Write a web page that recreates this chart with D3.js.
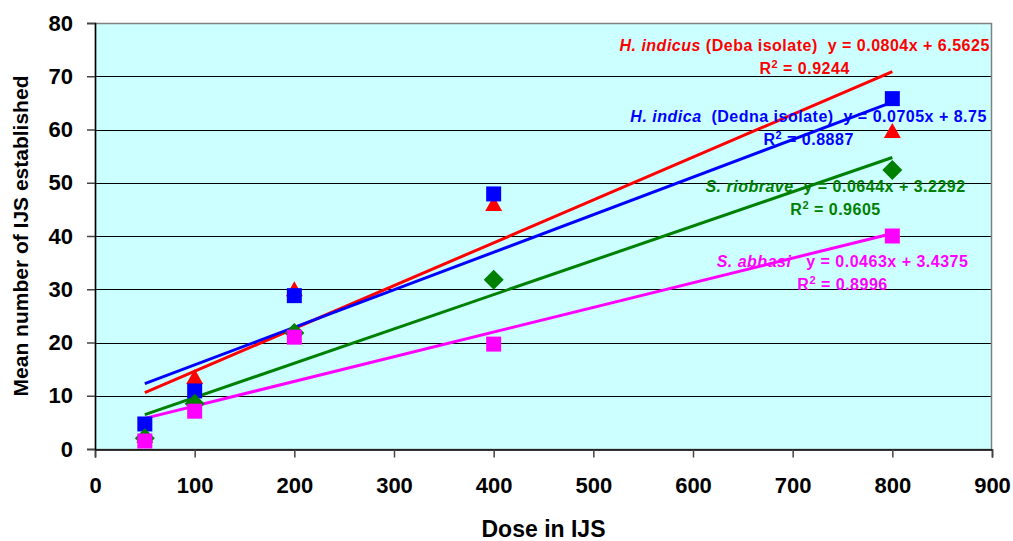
<!DOCTYPE html>
<html>
<head>
<meta charset="utf-8">
<script src="https://cdn.jsdelivr.net/npm/d3@7"></script>
<style>
  html, body { margin: 0; padding: 0; background: #ffffff; }
  svg { display: block; font-family: "Liberation Sans", Arial, sans-serif; font-weight: bold; }
  text { white-space: pre; }
</style>
</head>
<body>
<svg id="chart" width="1013" height="541"></svg>
<script>
// ---------- data ----------
const doses = [50, 100, 200, 400, 800];
const hIndicus = [2.5, 13.5, 30, 46, 59.7];     // red triangles
const hIndica = [4.7, 10.9, 28.8, 47.9, 65.8];  // blue squares
const sRiobrave = [2, 8.5, 21.8, 31.8, 52.4];   // green diamonds
const sAbbasi = [1.5, 7.1, 21, 19.7, 40];       // magenta squares

const slopes = [0.0804, 0.0705, 0.0644, 0.0463];
const intercepts = [6.5625, 8.75, 3.2292, 3.4375];
const rSquared = ["0.9244", "0.8887", "0.9605", "0.8996"];
const speciesNames = ["H. indicus", "H. indica", "S. riobrave", "S. abbasi"];
const speciesSuffix = [" (Deba isolate)  y = 0.0804x + 6.5625", "  (Dedna isolate)  y = 0.0705x + 8.75", "  y = 0.0644x + 3.2292", "   y = 0.0463x + 3.4375"];

const xTicks = [0, 100, 200, 300, 400, 500, 600, 700, 800, 900];
const yTicks = [0, 10, 20, 30, 40, 50, 60, 70, 80];
const xTitle = "Dose in IJS";
const yTitle = "Mean number of IJS established";

// ---------- layout / style ----------
const W = 1013, H = 541;
const margin = { left: 95, right: 21, top: 23, bottom: 92 };
const colors = ["#FF0000", "#0000FF", "#008000", "#FF00FF"];
const shapes = ["triangle", "square", "diamond", "square"];
// label anchors in data coordinates (center x, first baseline y)
const labelAnchors = [[712, 74.7], [716, 61.4], [743, 48.3], [750, 34.2]];

const svg = d3.select("#chart");
const x = d3.scaleLinear().domain([0, 900]).range([margin.left, W - margin.right]);
const y = d3.scaleLinear().domain([0, 80]).range([H - margin.bottom, margin.top]);

// plot background
svg.append("rect")
  .attr("x", x(0)).attr("y", y(80))
  .attr("width", x(900) - x(0)).attr("height", y(0) - y(80))
  .attr("fill", "#CCFFFF");

// gridlines
svg.append("g").selectAll("line").data(yTicks.filter(d => d > 0 && d < 80)).join("line")
  .attr("x1", x(0)).attr("x2", x(900))
  .attr("y1", d => Math.round(y(d)) + 0.5).attr("y2", d => Math.round(y(d)) + 0.5)
  .attr("stroke", "#000").attr("stroke-width", 1);

// plot border
svg.append("rect")
  .attr("x", x(0) + 0.5).attr("y", Math.round(y(80)) + 0.5)
  .attr("width", x(900) - x(0) - 1).attr("height", y(0) - y(80))
  .attr("fill", "none").attr("stroke", "#808080").attr("stroke-width", 1.5);

// axes
const xAxis = d3.axisBottom(x).tickValues(xTicks).tickSize(8).tickPadding(20).tickFormat(d3.format("d"));
const yAxis = d3.axisLeft(y).tickValues(yTicks).tickSize(8).tickPadding(14).tickFormat(d3.format("d"));
const gx = svg.append("g").attr("transform", `translate(0,${Math.round(y(0)) + 0.5})`).call(xAxis);
const gy = svg.append("g").attr("transform", `translate(${x(0)},0)`).call(yAxis);
[gx, gy].forEach(g => {
  g.select(".domain").attr("stroke", "#000").attr("stroke-width", 1.5);
  g.selectAll(".tick line").attr("stroke", "#444").attr("stroke-width", 1.5);
  g.selectAll(".tick text").attr("fill", "#000")
    .style("font-family", '"Liberation Sans", Arial, sans-serif')
    .style("font-weight", "bold").style("font-size", "22px");
});

// axis titles
svg.append("text")
  .attr("x", (x(0) + x(900)) / 2).attr("y", 537)
  .attr("text-anchor", "middle").style("font-size", "23px").attr("fill", "#000")
  .text(xTitle);
svg.append("text")
  .attr("transform", `translate(28,${(y(0) + y(80)) / 2}) rotate(-90)`)
  .attr("text-anchor", "middle").style("font-size", "21px").attr("fill", "#000")
  .text(yTitle);

// trend lines
const seriesData = [hIndicus, hIndica, sRiobrave, sAbbasi];
const xMin = d3.min(doses), xMax = d3.max(doses);
seriesData.forEach((vals, i) => {
  svg.append("line")
    .attr("x1", x(xMin)).attr("y1", y(slopes[i] * xMin + intercepts[i]))
    .attr("x2", x(xMax)).attr("y2", y(slopes[i] * xMax + intercepts[i]))
    .attr("stroke", colors[i]).attr("stroke-width", 3);
});

// markers
function markerPath(shape) {
  if (shape === "square") return "M-7.5,-7.5H7.5V7.5H-7.5Z";
  if (shape === "triangle") return "M0,-8L8.5,7L-8.5,7Z";
  if (shape === "diamond") return "M0,-10L10,0L0,10L-10,0Z";
}
seriesData.forEach((vals, i) => {
  svg.append("g").selectAll("path").data(doses.map((d, j) => [d, vals[j]])).join("path")
    .attr("d", markerPath(shapes[i]))
    .attr("transform", d => `translate(${x(d[0])},${y(d[1])})`)
    .attr("fill", colors[i]);
});

// equation labels
seriesData.forEach((vals, i) => {
  const cx = x(labelAnchors[i][0]);
  const by = y(labelAnchors[i][1]);
  const t1 = svg.append("text").attr("x", cx).attr("y", by)
    .attr("text-anchor", "middle").attr("fill", colors[i])
    .style("font-size", "16px").style("letter-spacing", "0.5px");
  t1.append("tspan").style("font-style", "italic").text(speciesNames[i]);
  t1.append("tspan").text(speciesSuffix[i]);
  const t2 = svg.append("text").attr("x", cx).attr("y", by + 23)
    .attr("text-anchor", "middle").attr("fill", colors[i])
    .style("font-size", "16px").style("letter-spacing", "0.5px");
  t2.append("tspan").text("R");
  t2.append("tspan").attr("dy", -6).style("font-size", "11px").text("2");
  t2.append("tspan").attr("dy", 6).text(" = " + rSquared[i]);
});
</script>
</body>
</html>
